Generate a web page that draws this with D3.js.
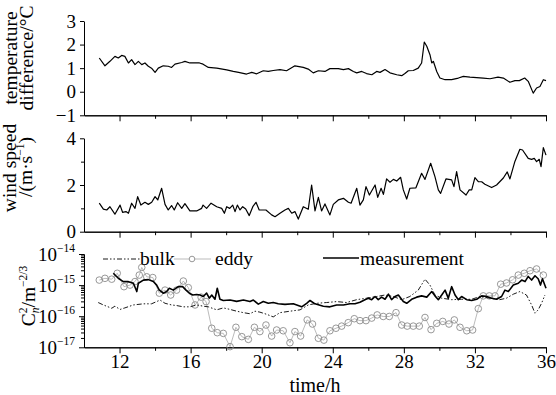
<!DOCTYPE html>
<html><head><meta charset="utf-8">
<script src="https://cdn.jsdelivr.net/npm/d3@7"></script>
<style>
html,body{margin:0;padding:0;background:#fff;}
svg{display:block;}
</style></head>
<body>
<svg id="c" width="556" height="395"></svg>
<script>
// ---------- data ----------
const tempTime = [10.86,11.18,11.46,11.74,11.93,12.12,12.3,12.5,12.68,12.87,13.06,13.25,13.43,13.62,13.8,14.0,14.18,14.46,14.74,14.93,15.12,15.5,15.68,15.96,16.5,16.7,17.0,17.47,18.03,18.4,18.7,19.15,19.44,19.72,20.09,20.37,20.65,21.03,21.4,21.87,22.34,22.62,22.9,23.19,23.56,23.84,24.31,24.6,24.88,25.16,25.35,25.63,25.9,26.2,26.47,26.66,26.94,27.22,27.6,27.88,28.06,28.25,28.53,28.81,29.0,29.15,29.29,29.47,29.57,29.66,29.85,30.03,30.32,30.69,31.07,31.35,31.72,32.1,32.47,32.85,33.3,33.6,33.97,34.25,34.5,34.8,35.0,35.28,35.47,35.66,35.85,36.0];
const tempVal = [1.43,1.1,1.29,1.5,1.43,1.54,1.5,1.22,1.36,1.15,1.29,1.15,1.22,1.08,1.0,0.82,1.0,1.1,1.08,1.03,1.17,1.24,1.29,1.22,1.22,1.17,1.03,1.0,0.93,0.86,0.82,0.75,0.82,0.76,0.89,0.86,0.9,0.94,0.89,1.1,1.03,0.96,0.8,0.89,0.86,0.98,0.98,0.94,0.98,0.86,0.8,0.86,0.77,0.72,0.86,0.82,0.94,0.8,0.72,0.68,0.77,0.89,0.9,1.0,1.22,2.11,1.93,1.57,1.22,1.29,0.86,0.58,0.51,0.51,0.58,0.65,0.62,0.6,0.58,0.55,0.62,0.58,0.4,0.47,0.47,0.58,0.44,-0.06,0.16,0.22,0.51,0.47];

const windTime = [10.86,11.09,11.28,11.46,11.74,12.03,12.17,12.36,12.5,12.68,12.87,13.02,13.2,13.43,13.62,13.81,14.0,14.15,14.37,14.56,14.74,14.93,15.08,15.27,15.5,15.68,15.96,16.34,16.62,16.7,16.9,17.15,17.47,17.75,17.9,18.03,18.2,18.37,18.5,18.63,18.78,18.93,19.1,19.3,19.5,19.68,19.86,20.24,20.56,20.75,21.03,21.31,21.5,21.69,21.87,22.06,22.34,22.62,22.81,23.0,23.19,23.37,23.56,23.84,24.03,24.31,24.6,24.88,25.03,25.35,25.53,25.72,25.87,26.06,26.38,26.53,26.72,26.85,27.03,27.22,27.41,27.6,27.82,27.97,28.16,28.34,28.68,29.0,29.19,29.51,29.75,29.94,30.07,30.37,30.69,30.82,30.97,31.16,31.5,31.68,31.82,32.0,32.19,32.38,32.56,32.94,33.22,33.6,33.82,33.97,34.25,34.53,34.68,35.0,35.19,35.34,35.47,35.62,35.72,35.85,36.0];
const windVal = [1.22,0.97,0.93,1.07,0.75,1.14,0.83,0.86,0.79,1.22,1.0,1.5,1.14,1.26,1.17,1.26,1.5,1.36,1.86,1.17,0.93,1.12,0.93,1.24,1.0,1.2,0.89,0.89,1.0,1.14,1.0,1.22,1.07,1.0,0.79,1.07,1.0,1.14,0.86,1.14,0.93,1.07,0.97,0.69,1.07,1.26,0.93,0.93,0.72,0.64,0.79,0.93,1.0,0.79,0.86,0.54,1.07,0.96,2.0,0.89,1.47,0.89,1.19,0.72,1.17,1.36,1.43,1.26,1.22,1.86,1.14,1.36,1.93,1.57,2.0,1.47,1.86,1.6,2.26,2.12,2.24,2.17,2.33,1.79,1.4,1.86,1.88,2.5,2.24,2.93,2.36,1.79,1.64,2.26,2.22,1.93,2.57,1.79,1.57,1.79,1.79,2.32,2.14,2.14,2.03,1.89,2.0,2.3,2.56,2.26,3.01,3.53,3.5,3.14,3.1,3.14,3.0,3.1,2.79,3.6,3.28];

const measTime = [11.65,11.93,12.21,12.5,12.78,12.97,13.06,13.34,13.62,13.9,14.09,14.24,14.46,14.65,14.8,15.03,15.3,15.55,15.74,15.93,16.12,16.34,16.53,16.71,16.9,17.05,17.19,17.37,17.5,17.65,17.84,18.22,18.59,18.97,19.34,19.53,19.81,20.09,20.37,20.65,20.93,21.31,21.78,22.25,22.53,22.72,23.0,23.47,23.84,24.22,24.6,24.97,25.25,25.53,25.81,26.0,26.19,26.38,26.56,26.75,26.94,27.13,27.31,27.5,27.69,27.97,28.16,28.44,28.72,29.0,29.29,29.57,29.75,29.94,30.13,30.32,30.5,30.69,30.88,31.07,31.25,31.54,31.82,32.1,32.38,32.66,32.94,33.22,33.5,33.69,33.88,34.16,34.44,34.63,34.82,35.0,35.19,35.38,35.56,35.69,35.8,36.0];
const measVal = [2.4e-15,1.66e-15,1.29e-15,1.29e-15,1.15e-15,6.2e-16,1.15e-15,1.45e-15,1.5e-15,1.3e-15,1.0e-15,6.9e-16,5.5e-16,6.2e-16,7.9e-16,6.9e-16,8.9e-16,8.9e-16,6.9e-16,5.5e-16,4.8e-16,5.0e-16,4.8e-16,4.3e-16,5.5e-16,3.8e-16,4.8e-16,3.5e-16,7.9e-16,3.5e-16,3.2e-16,3.3e-16,3.0e-16,3.3e-16,2.95e-16,3.3e-16,2.45e-16,2.95e-16,2.6e-16,2.75e-16,2.5e-16,2.4e-16,2.5e-16,2.0e-16,2.6e-16,3.2e-16,2.5e-16,2.1e-16,2.0e-16,2.3e-16,2.3e-16,2.5e-16,2.5e-16,2.8e-16,3.4e-16,3.8e-16,3.4e-16,4.3e-16,3.4e-16,4.1e-16,3.5e-16,5.1e-16,3.4e-16,4.3e-16,4.8e-16,2.95e-16,2.6e-16,3.5e-16,4.1e-16,4.5e-16,4.1e-16,6.2e-16,4.5e-16,3.4e-16,4.8e-16,6.9e-16,3.8e-16,8.9e-16,4.8e-16,3.4e-16,4.3e-16,3.4e-16,3.2e-16,3.5e-16,4.5e-16,4.3e-16,3.8e-16,3.5e-16,4.3e-16,6.9e-16,6.2e-16,1.0e-15,1.15e-15,1.45e-15,1.3e-15,1.9e-15,1.45e-15,2.0e-15,1.6e-15,1.0e-15,1.6e-15,7.9e-16];

const bulkTime = [10.8,11.09,11.56,11.74,12.03,12.3,12.78,13.34,13.8,14.28,14.56,14.93,15.21,15.59,15.96,16.34,16.71,17.0,17.47,17.84,18.22,18.59,18.97,19.34,19.62,19.9,20.28,20.65,21.03,21.6,22.16,22.34,22.62,23.1,23.65,24.22,24.78,25.35,25.9,26.47,26.94,27.4,27.88,28.34,28.81,29.19,29.47,29.75,30.13,30.69,31.25,31.82,32.28,32.85,33.4,33.78,34.16,34.53,34.9,35.19,35.38,35.56,35.75,35.94];
const bulkVal = [2.75e-16,2.3e-16,1.8e-16,2.1e-16,1.65e-16,1.85e-16,2.3e-16,2.5e-16,2.5e-16,3.3e-16,2.6e-16,2.3e-16,2.2e-16,2.0e-16,2.0e-16,2.3e-16,2.1e-16,2.0e-16,1.6e-16,1.85e-16,1.65e-16,1.45e-16,1.3e-16,1.2e-16,1.45e-16,1.35e-16,1.15e-16,9.5e-17,1.3e-16,1.45e-16,1.6e-16,1.85e-16,2.3e-16,2.6e-16,2.75e-16,2.95e-16,2.75e-16,3.4e-16,3.8e-16,4.3e-16,4.8e-16,4.3e-16,3.4e-16,4.3e-16,6.9e-16,1.55e-15,1.0e-15,4.8e-16,3.8e-16,3.4e-16,3.5e-16,3.5e-16,4.3e-16,3.8e-16,3.4e-16,3.8e-16,5.1e-16,6.2e-16,4.8e-16,2.3e-16,1.25e-16,1.6e-16,2.6e-16,4.8e-16];

const eddyTime = [10.86,11.18,11.56,11.87,12.25,12.59,12.87,13.11,13.25,13.53,13.87,14.24,14.56,14.88,15.21,15.59,15.87,16.25,16.59,16.87,17.19,17.5,17.84,18.22,18.55,18.88,19.25,19.59,19.9,20.24,20.56,20.84,21.21,21.59,21.87,22.19,22.56,22.86,23.19,23.5,23.84,24.18,24.5,24.87,25.21,25.53,25.87,26.19,26.5,26.84,27.18,27.56,27.88,28.19,28.53,28.87,29.19,29.53,29.85,30.19,30.54,30.84,31.16,31.54,31.87,32.19,32.47,32.81,33.13,33.45,33.78,34.12,34.44,34.78,35.1,35.47,35.85];
const eddyVal = [1.45e-15,1.65e-15,1.55e-15,2.4e-15,8.9e-16,1.0e-15,1.3e-15,2.1e-15,3.7e-15,1.85e-15,1.75e-15,5.5e-16,6.9e-16,4.8e-16,6.9e-16,1.35e-15,8.3e-16,2.3e-16,4.1e-16,2.95e-16,4.1e-17,2.95e-17,2.8e-17,1.05e-17,4.4e-17,2.2e-17,1.8e-17,4.4e-17,3.2e-17,5.2e-17,2.3e-17,3.6e-17,3.4e-17,1.4e-17,3.2e-17,2.3e-17,7.6e-17,5.6e-17,1.95e-17,1.7e-17,3.4e-17,4.1e-17,4.8e-17,6.2e-17,8.3e-17,7.2e-17,7.2e-17,8.7e-17,1.1e-16,9.8e-17,9.8e-17,1.3e-16,5.2e-17,4.8e-17,4.8e-17,4.8e-17,9.1e-17,3.7e-17,5.9e-17,6.8e-17,5.6e-17,7.6e-17,4.4e-17,3.4e-17,3.6e-17,1.75e-16,4.5e-16,4.5e-16,4.5e-16,1.07e-15,1.17e-15,1.48e-15,2.1e-15,2.4e-15,2.9e-15,3.3e-15,2.1e-15];

const xMajorTicks = [12,16,20,24,28,32,36];
const xMinorTicks = [14,18,22,26,30,34];
const tempTicks = [-1,0,1,2,3];
const windMajorTicks = [0,2,4];
const windMinorTicks = [1,3];
const cnMajorTicks = [1e-17,1e-16,1e-15,1e-14];
const cnExponents = ["−17","−16","−15","−14"];
const legendLabels = ["bulk","eddy","measurement"];

// ---------- drawing ----------
const FONT = '"Liberation Serif", "Times New Roman", serif';
const svg = d3.select("#c");
const FS = 19;
const x = d3.scaleLinear().domain([10,36]).range([84,546]);
const yT = d3.scaleLinear().domain([-1,3]).range([115.3,21]);
const yW = d3.scaleLinear().domain([0,4]).range([231.7,138.3]);
const yC = d3.scaleLog().domain([1e-17,1e-14]).range([347.3,254]);
const intFmt = d3.format("d");

function styleAxis(g){
  g.attr("font-family",FONT).attr("font-size",FS);
  g.select(".domain").attr("stroke","#000").attr("stroke-width",1);
  g.selectAll(".tick line").attr("stroke","#000").attr("stroke-width",1);
  g.selectAll("text").attr("font-family",FONT).attr("font-size",FS).attr("fill","#000");
}
function xAxis(y0, labels){
  const gMin = svg.append("g").attr("transform",`translate(0,${y0})`)
    .call(d3.axisBottom(x).tickValues(xMinorTicks).tickSize(3.5).tickFormat("").tickSizeOuter(0));
  styleAxis(gMin);
  const gMaj = svg.append("g").attr("transform",`translate(0,${y0})`)
    .call(d3.axisBottom(x).tickValues(xMajorTicks).tickSize(6).tickPadding(1)
      .tickFormat(labels ? intFmt : "").tickSizeOuter(0));
  styleAxis(gMaj);
}
xAxis(yT(-1), false);
xAxis(yW(0), false);
xAxis(yC(1e-17), true);

// y axes
const gT = svg.append("g").attr("transform","translate(84,0)")
  .call(d3.axisLeft(yT).tickValues(tempTicks).tickSize(4).tickPadding(4).tickFormat(intFmt).tickSizeOuter(0));
styleAxis(gT);
const gWm = svg.append("g").attr("transform","translate(84,0)")
  .call(d3.axisLeft(yW).tickValues(windMinorTicks).tickSize(3).tickFormat("").tickSizeOuter(0));
styleAxis(gWm);
const gW = svg.append("g").attr("transform","translate(84,0)")
  .call(d3.axisLeft(yW).tickValues(windMajorTicks).tickSize(4).tickPadding(4).tickFormat(intFmt).tickSizeOuter(0));
styleAxis(gW);
const cnMinor = [];
[1e-17,1e-16,1e-15].forEach(d=>{ for(let k=2;k<=9;k++) cnMinor.push(d*k); });
const gCm = svg.append("g").attr("transform","translate(84,0)")
  .call(d3.axisLeft(yC).tickValues(cnMinor).tickSize(3).tickFormat("").tickSizeOuter(0));
styleAxis(gCm);
const gC = svg.append("g").attr("transform","translate(84,0)")
  .call(d3.axisLeft(yC).tickValues(cnMajorTicks).tickSize(5).tickPadding(3).tickFormat("").tickSizeOuter(0));
styleAxis(gC);
gC.selectAll(".tick").each(function(d,i){
  const t = d3.select(this).append("text").attr("x",-9).attr("dy","0.32em")
    .attr("text-anchor","end").attr("font-family",FONT).attr("fill","#000");
  t.append("tspan").attr("font-size",FS).text("10");
  t.append("tspan").attr("font-size",11.5).attr("dy","-0.75em").text(cnExponents[i]);
});

// lines
const lineT = d3.line().x((d,i)=>x(tempTime[i])).y(d=>yT(d));
svg.append("path").attr("d",lineT(tempVal)).attr("fill","none").attr("stroke","#000").attr("stroke-width",1.2).attr("stroke-linejoin","round");
const lineW = d3.line().x((d,i)=>x(windTime[i])).y(d=>yW(d));
svg.append("path").attr("d",lineW(windVal)).attr("fill","none").attr("stroke","#000").attr("stroke-width",1.2).attr("stroke-linejoin","round");

const lineE = d3.line().x((d,i)=>x(eddyTime[i])).y(d=>yC(d));
svg.append("path").attr("d",lineE(eddyVal)).attr("fill","none").attr("stroke","#aaa").attr("stroke-width",0.8);
svg.append("g").selectAll("circle").data(eddyVal).join("circle")
  .attr("cx",(d,i)=>x(eddyTime[i])).attr("cy",d=>yC(d)).attr("r",3.3)
  .attr("fill","none").attr("stroke","#8c8c8c").attr("stroke-width",0.9);
const lineB = d3.line().x((d,i)=>x(bulkTime[i])).y(d=>yC(d));
svg.append("path").attr("d",lineB(bulkVal)).attr("fill","none").attr("stroke","#000").attr("stroke-width",0.9)
  .attr("stroke-dasharray","5,2,1.5,2,1.5,2");
const lineM = d3.line().x((d,i)=>x(measTime[i])).y(d=>yC(d));
svg.append("path").attr("d",lineM(measVal)).attr("fill","none").attr("stroke","#000").attr("stroke-width",1.6).attr("stroke-linejoin","round");

// legend
const LF = 19.5;
const lg = svg.append("g").attr("font-family",FONT).attr("font-size",LF);
lg.append("line").attr("x1",103).attr("x2",140).attr("y1",259).attr("y2",259).attr("stroke","#000").attr("stroke-width",0.9).attr("stroke-dasharray","5,2,1.5,2,1.5,2");
lg.append("text").attr("x",140).attr("y",265).text(legendLabels[0]);
lg.append("line").attr("x1",174).attr("x2",211).attr("y1",259).attr("y2",259).attr("stroke","#aaa").attr("stroke-width",0.8);
lg.append("circle").attr("cx",192).attr("cy",259).attr("r",2.8).attr("fill","#fff").attr("stroke","#8c8c8c").attr("stroke-width",0.9);
lg.append("text").attr("x",215).attr("y",265).text(legendLabels[1]);
lg.append("line").attr("x1",323).attr("x2",359).attr("y1",258).attr("y2",258).attr("stroke","#000").attr("stroke-width",1.5);
lg.append("text").attr("x",360).attr("y",265).text(legendLabels[2]);

// axis titles
const TF = 19.5;
function vtext(xx,yy){ return svg.append("text").attr("transform",`translate(${xx},${yy}) rotate(-90)`)
  .attr("text-anchor","middle").attr("font-family",FONT).attr("font-size",TF).attr("fill","#000"); }
vtext(17,58).text("temperature");
vtext(33,58).text("difference/°C");
vtext(16,168).text("wind speed");
const ws = vtext(32,167);
ws.append("tspan").text("/(m·s");
ws.append("tspan").attr("font-size",11.5).attr("dy",-8).text("−1");
ws.append("tspan").attr("dy",8).text(")");
const cn = vtext(35,296);
cn.append("tspan").text("C");
cn.append("tspan").attr("font-size",11.5).attr("font-style","italic").attr("dy",4).text("n");
cn.append("tspan").attr("font-size",11.5).attr("dx",-5.8).attr("dy",-12).text("2");
cn.append("tspan").attr("dy",8).text("/m");
cn.append("tspan").attr("font-size",11.5).attr("dy",-8).text("−2/3");

svg.append("text").attr("x",315).attr("y",392).attr("text-anchor","middle")
  .attr("font-family",FONT).attr("font-size",20).attr("fill","#000").text("time/h");
</script>
</body></html>
